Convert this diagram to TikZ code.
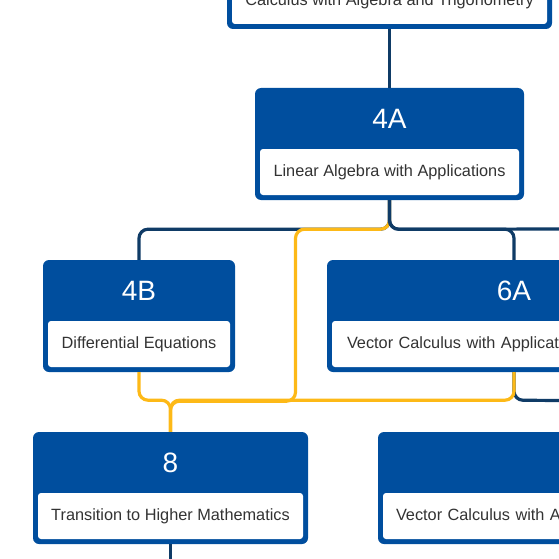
\documentclass[tikz,border=0pt]{standalone}
\usepackage{fontspec}
\setmainfont{Liberation Sans}
\usetikzlibrary{calc}
\definecolor{courseblue}{HTML}{004E9E}
\definecolor{navyline}{HTML}{0F3B66}
\definecolor{goldline}{HTML}{FDB917}
\definecolor{bodytext}{HTML}{333333}

\begin{document}
\begin{tikzpicture}[x=1pt, y=-1pt,
    card/.style={fill=courseblue, rounded corners=6pt, minimum height=112pt, inner sep=0pt},
    cardbody/.style={fill=white, rounded corners=3pt, minimum height=46pt, inner sep=0pt, text=bodytext, font=\fontsize{16.3}{19}\selectfont},
    cardtitle/.style={text=white, inner sep=0pt, font=\fontsize{28}{32}\selectfont},
    prereq/.style={draw=navyline, line width=3.2pt, rounded corners=9pt},
    coreq/.style={draw=goldline, line width=3.2pt, rounded corners=9pt}
]
\useasboundingbox (0,0) rectangle (559,559);
\clip (0,0) rectangle (559,559);

% ---- top course (cut off) ----
\node[card, minimum width=325pt] (calc) at (389.5,-27) {};
\node[cardbody, minimum width=315pt] (calcB) at (389.5,1) {Calculus with Algebra and Trigonometry};

% ---- 4A ----
\node[card, minimum width=269pt] (la4) at (389.5,144) {};
\node[cardtitle] (la4T) at (389.5,118.5) {4A};
\node[cardbody, minimum width=259pt] (la4B) at (389.5,172) {Linear Algebra with Applications};

% ---- 4B ----
\node[card, minimum width=192pt] (de4) at (139,316) {};
\node[cardtitle] (de4T) at (139,290.5) {4B};
\node[cardbody, minimum width=182pt] (de4B) at (139,344) {Differential Equations};

% ---- 6A ----
\node[card, minimum width=374pt] (vc6) at (514,316) {};
\node[cardtitle] (vc6T) at (514,290.5) {6A};
\node[cardbody, text width=334pt, inner xsep=15pt, align=left] (vc6B) at (514,344) {Vector Calculus with Applications};

% ---- 8 ----
\node[card, minimum width=275pt] (th8) at (170.5,488) {};
\node[cardtitle] (th8T) at (170.5,462.5) {8};
\node[cardbody, minimum width=265pt] (th8B) at (170.5,516) {Transition to Higher Mathematics};

% ---- right course (cut off) ----
\node[card, minimum width=374pt] (vcx) at (565,488) {};
\node[cardbody, text width=338pt, inner xsep=13pt, align=left] (vcxB) at (565,516) {Vector Calculus with Applications};

% free ends beyond the frame
\coordinate (offR1) at (640,229);
\coordinate (offR2) at (640,401);
\coordinate (offB) at (170.5,580);

% prerequisites
\draw[prereq] (calc.south) -- (la4.north);
\draw[prereq] (la4.south) -- ++(0,29) -| (de4.north);
\draw[prereq] (vc6.south) -- ++(0,28) -- (offR2);
\draw[prereq] (th8.south) -- (offB);

% corequisite paths into 8
\draw[coreq] (la4.south) -- ++(0,29) -| ++(-94,172) -| (th8.north);
\draw[coreq] (de4.south) -- ++(0,28) -| (th8.north);
\draw[coreq] (vc6.south) -- ++(0,28) -| (th8.north);

% 4A to the right
\draw[prereq] (la4.south) -- ++(0,29) -| (vc6.north);
\draw[prereq] (la4.south) -- ++(0,29) -- (offR1);
\end{tikzpicture}
\end{document}
